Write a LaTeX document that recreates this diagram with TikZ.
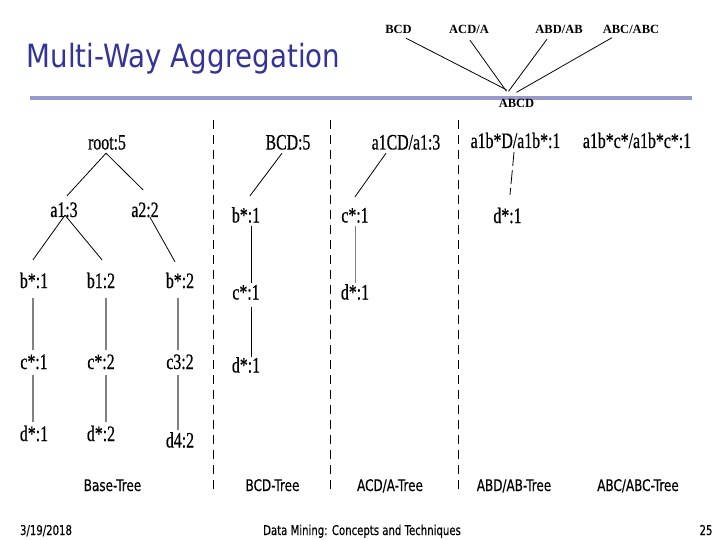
\documentclass[tikz,border=0pt]{standalone}
\usepackage{fontspec}
\usetikzlibrary{calc}
\newfontfamily\trm[FakeStretch=0.72,FakeBold=0.5]{Liberation Serif}
\newfontfamily\topf{Liberation Serif}
\newfontfamily\tah[FakeStretch=0.75,FakeBold=0.3]{DejaVu Sans}
\newfontfamily\titlef[FakeStretch=0.865]{DejaVu Sans}
\definecolor{titleblue}{RGB}{51,51,153}
\definecolor{rule}{RGB}{153,153,204}
\definecolor{edgegray}{RGB}{128,128,128}
\tikzset{
  tn/.style={font=\trm\fontsize{22}{22}\selectfont, inner sep=0pt, text height=14pt, text depth=0pt, anchor=center},
  topn/.style={font=\topf\bfseries\fontsize{12.5}{12.5}\selectfont, inner sep=0pt, text height=8pt, text depth=0pt, anchor=center},
  lab/.style={font=\tah\fontsize{16}{16}\selectfont, inner sep=0pt, anchor=base},
  foot/.style={font=\tah\fontsize{13.5}{13.5}\selectfont, inner sep=0pt, anchor=base},
  thin edge/.style={draw=black, line width=0.8pt},
  gray edge/.style={draw=edgegray, line width=2pt},
  lgray edge/.style={draw=edgegray, line width=1pt},
  sep line/.style={draw=black, line width=0.9pt, dash pattern=on 9pt off 6pt},
}
\begin{document}
\begin{tikzpicture}[x=1pt,y=-1pt]
\useasboundingbox[fill=white] (0,0) rectangle (720,540);

% title and rule
\node[font=\titlef\fontsize{32}{32}\selectfont, text=titleblue, inner sep=0pt, anchor=base] (title) at (183.5,68) {Multi-Way Aggregation};
\coordinate (ruleL) at (30,98);
\coordinate (ruleR) at (692,98);
\draw[rule, line width=4pt] (ruleL) -- (ruleR);

% top lattice
\node[topn] (tBCD) at (398.5,29.5) {BCD};
\node[topn] (tACD) at (469,29.5) {ACD/A};
\node[topn] (tABD) at (559,29.5) {ABD/AB};
\node[topn] (tABC) at (631,29.5) {ABC/ABC};
\node[topn] (tABCD) at (516.5,104) {ABCD};
\draw[thin edge] ($(tBCD.south)+(7.5,4.5)$) -- ($(tABCD.north)+(-10,-10)$);
\draw[thin edge] ($(tACD.south)+(1,6.5)$) -- ($(tABCD.north)+(-10,-8.5)$);
\draw[thin edge] ($(tABD.south)+(-12,5.5)$) -- ($(tABCD.north)+(-8,-8.5)$);
\draw[thin edge] ($(tABC.south)+(-19,4)$) -- ($(tABCD.north)+(0,-7.5)$);

% separators
\coordinate (s1t) at (213,120); \coordinate (s1b) at (213,492);
\coordinate (s2t) at (330.5,120); \coordinate (s2b) at (330.5,492);
\coordinate (s3t) at (458,120); \coordinate (s3b) at (458,492);
\draw[sep line] (s1t) -- (s1b);
\draw[sep line] (s2t) -- (s2b);
\draw[sep line] (s3t) -- (s3b);

% Base tree
\node[tn] (root) at (107,142.5) {root:5};
\node[tn] (a1) at (64,210) {a1:3};
\node[tn] (a2) at (145,210) {a2:2};
\node[tn] (b1s) at (34,281) {b*:1};
\node[tn] (b12) at (101,281) {b1:2};
\node[tn] (b2s) at (180,281) {b*:2};
\node[tn] (c1s) at (34,362) {c*:1};
\node[tn] (c2s) at (101,362) {c*:2};
\node[tn] (c32) at (180,362) {c3:2};
\node[tn] (d1s) at (34,434) {d*:1};
\node[tn] (d2s) at (101,434) {d*:2};
\node[tn] (d42) at (180,440.5) {d4:2};
\draw[thin edge] ($(root.south)+(-1,3.5)$) -- ($(a1.north)+(3,-7)$);
\draw[thin edge] ($(root.south)+(-1,3.5)$) -- ($(a2.north)+(-2,-13)$);
\draw[thin edge] ($(a1.south)+(1,-2)$) -- ($(b1s.north)+(-1,-14)$);
\draw[thin edge] ($(a1.south)+(1,-2)$) -- ($(b12.north)+(1,-14)$);
\draw[thin edge] ($(a2.south)+(5,0)$) -- ($(b2s.north)+(-5,-12)$);
\draw[gray edge] ($(b1s.south)+(-1,10)$) -- ($(c1s.north)+(-1,-5)$);
\draw[gray edge] ($(c1s.south)+(-1,6)$) -- ($(d1s.north)+(-1,-5)$);
\draw[gray edge] ($(b12.south)+(5,10)$) -- ($(c2s.north)+(5,-5)$);
\draw[gray edge] ($(c2s.south)+(5,6)$) -- ($(d2s.north)+(5,-5)$);
\draw[gray edge] ($(b2s.south)+(-2,10)$) -- ($(c32.north)+(-2,-5)$);
\draw[gray edge] ($(c32.south)+(-2,6)$) -- ($(d42.north)+(-2,-3.5)$);

% BCD tree
\node[tn] (bcd) at (288,142.5) {BCD:5};
\node[tn] (bb) at (246,215.5) {b*:1};
\node[tn] (cb) at (246,292.5) {c*:1};
\node[tn] (db) at (246,365.5) {d*:1};
\draw[thin edge] ($(bcd.south)+(-6,3.5)$) -- ($(bb.north)+(4,-12.5)$);
\draw[thin edge] ($(bb.south)+(5,3.5)$) -- ($(cb.north)+(5,-2.5)$);
\draw[thin edge] ($(cb.south)+(5,7.5)$) -- ($(db.north)+(5,-1.5)$);

% ACD/A tree
\node[tn] (acd) at (406,142.5) {a1CD/a1:3};
\node[tn] (ca) at (355,215.5) {c*:1};
\node[tn] (da) at (355,292.5) {d*:1};
\draw[thin edge] ($(acd.south)+(-20,3.5)$) -- ($(ca.north)+(0,-11.5)$);
\draw[lgray edge] ($(ca.south)+(0,3.5)$) -- ($(da.north)+(0,-2.5)$);

% ABD/AB tree
\node[tn] (abd) at (515.5,141) {a1b*D/a1b*:1};
\node[tn] (dab) at (507.5,216) {d*:1};
\draw[thin edge, dash pattern=on 14pt off 4pt] ($(abd.south)+(-1.5,4)$) -- ($(dab.north)+(2.5,-14)$);

% ABC/ABC tree
\node[tn] (abc) at (637,141) {a1b*c*/a1b*c*:1};

% tree labels
\node[lab] (l1) at (112.5,491) {Base-Tree};
\node[lab] (l2) at (272.5,491) {BCD-Tree};
\node[lab] (l3) at (390,491) {ACD/A-Tree};
\node[lab] (l4) at (514,491) {ABD/AB-Tree};
\node[lab] (l5) at (638,491) {ABC/ABC-Tree};

% footer
\node[foot] (date) at (46,535) {3/19/2018};
\node[foot] (ftitle) at (362,535) {Data Mining: Concepts and Techniques};
\node[foot] (page) at (706,535) {25};
\end{tikzpicture}
\end{document}
